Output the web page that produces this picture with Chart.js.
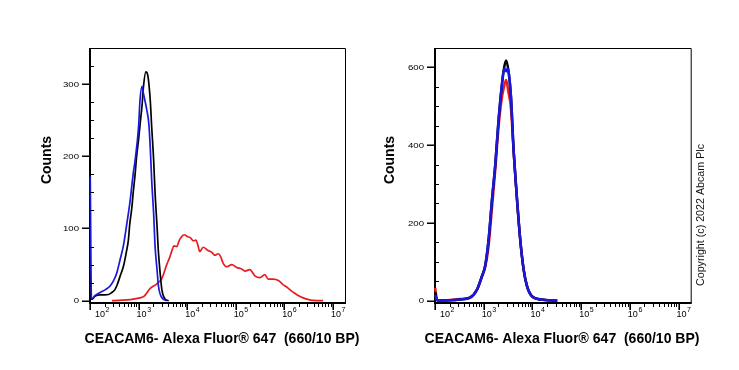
<!DOCTYPE html>
<html>
<head>
<meta charset="utf-8">
<script src="https://cdn.jsdelivr.net/npm/chart.js@4/dist/chart.umd.min.js"></script>
<style>
  html, body { margin: 0; padding: 0; background: #fff; }
  #wrap { position: relative; width: 739px; height: 370px; overflow: hidden; }
  canvas { position: absolute; top: 0; }
  #c1 { left: 0; }
  #c2 { left: 370px; }
</style>
</head>
<body>
<div id="wrap">
  <canvas id="c1" width="370" height="370"></canvas>
  <canvas id="c2" width="369" height="370"></canvas>
</div>
<script>
// ---------- Data (x = log10 of fluorescence intensity, y = counts) ----------
const axisTitleX = 'CEACAM6- Alexa Fluor\u00AE 647  (660/10 BP)';
const axisTitleY = 'Counts';
const copyrightText = 'Copyright (c) 2022 Abcam Plc';

// x tick labels: 10^2 ... 10^7
const xMajorExps = [2, 3, 4, 5, 6, 7];
const xTickBase = '10';
const xTickSup = ['2', '3', '4', '5', '6', '7'];
const xMinorMultipliers = [2, 3, 4, 5, 6, 7, 8, 9];

// y ticks
const leftYMajor = [0, 100, 200, 300];
const leftYMinor = [25, 50, 75, 125, 150, 175, 225, 250, 275, 325];
const rightYMajor = [0, 200, 400, 600];
const rightYMinor = [50, 100, 150, 250, 300, 350, 450, 500, 550];

// Left panel series
const leftRedExp = [2.45, 2.60, 2.83, 3.00, 3.11, 3.24, 3.37, 3.48, 3.58, 3.64, 3.68, 3.73, 3.785, 3.84, 3.88, 3.92, 3.96, 4.00, 4.07, 4.13, 4.18, 4.22, 4.26, 4.33, 4.42, 4.51, 4.57, 4.64, 4.69, 4.74, 4.81, 4.92, 5.02, 5.12, 5.19, 5.29, 5.40, 5.50, 5.60, 5.67, 5.77, 5.88, 5.98, 6.05, 6.12, 6.19, 6.26, 6.35, 6.43, 6.52, 6.60, 6.80];
const leftRedCounts = [0, 0.5, 1.5, 3.5, 6, 17, 23, 31, 50, 60, 68, 76, 75, 84, 88, 91, 91, 89, 87, 83, 84, 77, 68, 74, 70, 67, 63, 65, 61, 52, 47, 50, 46, 44, 41, 43, 34, 32, 36, 30, 30, 28, 22, 19, 15, 11.5, 8.3, 5, 2.8, 1.2, 0.3, 0];

const leftBlackExp = [2.00, 2.04, 2.10, 2.20, 2.30, 2.38, 2.44, 2.51, 2.56, 2.62, 2.69, 2.75, 2.79, 2.82, 2.86, 2.89, 2.93, 2.96, 3.00, 3.04, 3.07, 3.10, 3.15, 3.19, 3.24, 3.27, 3.31, 3.34, 3.38, 3.41, 3.45, 3.48, 3.55, 3.62];
const leftBlackCounts = [3, 2, 6, 8, 8, 8.5, 11, 15, 22, 34, 48, 68, 84, 107, 128, 150, 176, 200, 223, 250, 269, 296, 317, 312, 278, 241, 195, 149, 103, 66, 34, 15, 2, 0];

const leftBlueExp = [2.005, 2.03, 2.05, 2.10, 2.20, 2.31, 2.41, 2.48, 2.55, 2.62, 2.69, 2.75, 2.82, 2.89, 2.93, 3.00, 3.03, 3.07, 3.10, 3.17, 3.21, 3.24, 3.27, 3.31, 3.34, 3.38, 3.41, 3.48, 3.58];
const leftBlueCounts = [172, 4, 3, 7, 11, 15, 20, 27, 38, 57, 77, 103, 135, 176, 195, 241, 278, 297, 287, 264, 246, 213, 167, 121, 75, 43, 20, 4, 0];

// Right panel series
const rightRedExp = [2.005, 2.03, 2.07, 2.31, 2.51, 2.72, 2.86, 2.96, 3.03, 3.10, 3.17, 3.24, 3.30, 3.37, 3.42, 3.46, 3.51, 3.56, 3.61, 3.68, 3.75, 3.82, 3.89, 3.99, 4.16, 4.51];
const rightRedCounts = [33, 8, 0, 2, 4, 8, 27, 60, 86, 140, 238, 340, 440, 520, 552, 568, 535, 495, 392, 265, 157, 80, 38, 12, 4, 0];

const rightBlackExp = [2.005, 2.03, 2.07, 2.31, 2.51, 2.72, 2.86, 2.96, 3.03, 3.10, 3.17, 3.24, 3.30, 3.37, 3.42, 3.46, 3.51, 3.56, 3.61, 3.68, 3.75, 3.82, 3.89, 3.99, 4.16, 4.51];
const rightBlackCounts = [22, 5, 0, 1, 3, 8, 28, 62, 90, 157, 260, 354, 457, 551, 600, 618, 590, 525, 397, 268, 157, 80, 37, 11, 3, 0];

const rightBlueExp = [2.005, 2.03, 2.07, 2.31, 2.51, 2.72, 2.86, 2.96, 3.03, 3.10, 3.17, 3.24, 3.30, 3.37, 3.42, 3.46, 3.49, 3.51, 3.56, 3.61, 3.68, 3.75, 3.82, 3.89, 3.99, 4.16, 4.51];
const rightBlueCounts = [15, 4, 0, 1, 3, 8, 28, 62, 90, 157, 260, 354, 457, 551, 597, 590, 597, 590, 525, 397, 268, 157, 80, 37, 11, 3, 0];

// ---------- Styling ----------
const RED = 'rgb(232,28,30)';
const BLACK = '#000000';
const BLUE = 'rgb(24,24,222)';
const FONT = '"Liberation Sans", Arial, Helvetica, sans-serif';

function pts(xs, ys) { return xs.map((x, i) => ({ x: x, y: ys[i] })); }

// order: higher values are drawn first (underneath)
function ds(xs, ys, color, width, order) {
  return {
    data: pts(xs, ys), borderColor: color, borderWidth: width, order: order,
    pointRadius: 0, fill: false, cubicInterpolationMode: 'monotone', clip: 3
  };
}

function scaledText(ctx, text, x, y, sx, align, baseline) {
  ctx.save();
  ctx.translate(x, y);
  ctx.scale(sx, 1);
  ctx.textAlign = align;
  ctx.textBaseline = baseline;
  ctx.fillText(text, 0, 0);
  ctx.restore();
}

function decorPlugin(cfg) {
  return {
    id: 'decor',
    beforeDatasetsDraw(chart) {
      const ctx = chart.ctx;
      const a = chart.chartArea;
      ctx.save();
      ctx.strokeStyle = '#000';
      // frame (thin top/right)
      ctx.lineWidth = 1;
      ctx.beginPath();
      ctx.moveTo(a.left, a.top + 0.5); ctx.lineTo(a.right + 0.5, a.top + 0.5);
      ctx.lineTo(a.right + 0.5, a.bottom);
      ctx.stroke();
      // thick axes
      ctx.lineWidth = 2;
      ctx.beginPath();
      ctx.moveTo(a.left, a.top); ctx.lineTo(a.left, a.bottom + 1);
      ctx.moveTo(a.left - 1, a.bottom); ctx.lineTo(a.right + 1, a.bottom);
      ctx.stroke();
      ctx.restore();
    },
    afterDatasetsDraw(chart) {
      const ctx = chart.ctx;
      const a = chart.chartArea;
      const xs = chart.scales.x, ys = chart.scales.y;
      ctx.save();
      ctx.strokeStyle = '#000';
      ctx.fillStyle = '#000';
      // y ticks
      ctx.lineWidth = 1.6;
      ctx.beginPath();
      cfg.yMajor.forEach(v => {
        const py = Math.round(ys.getPixelForValue(v)) + 0.2;
        ctx.moveTo(a.left - 8, py); ctx.lineTo(a.left - 1, py);
      });
      ctx.stroke();
      ctx.lineWidth = 1;
      ctx.beginPath();
      cfg.yMinor.forEach(v => {
        const py = Math.round(ys.getPixelForValue(v)) + 0.5;
        ctx.moveTo(a.left, py); ctx.lineTo(a.left + 4, py);
      });
      ctx.stroke();
      // y labels
      ctx.font = '8px ' + FONT;
      cfg.yMajor.forEach(v => {
        scaledText(ctx, String(v), a.left - 11, ys.getPixelForValue(v) + 0.5, 1.2, 'right', 'middle');
      });
      // x ticks
      ctx.lineWidth = 1.6;
      ctx.beginPath();
      xMajorExps.forEach(e => {
        const px = Math.round(xs.getPixelForValue(e)) + 0.2;
        ctx.moveTo(px, a.bottom + 1); ctx.lineTo(px, a.bottom + 7);
      });
      ctx.stroke();
      ctx.lineWidth = 1;
      ctx.beginPath();
      xMajorExps.forEach(e => {
        xMinorMultipliers.forEach(m => {
          const v = e + Math.log10(m);
          if (v <= xs.max) {
            const px = Math.round(xs.getPixelForValue(v)) + 0.5;
            ctx.moveTo(px, a.bottom + 1); ctx.lineTo(px, a.bottom + 4);
          }
        });
      });
      ctx.stroke();
      // x labels 10^n
      xMajorExps.forEach((e, i) => {
        const px = xs.getPixelForValue(e);
        ctx.font = '9px ' + FONT;
        const wb = ctx.measureText(xTickBase).width;
        ctx.font = '7px ' + FONT;
        const ws = ctx.measureText(xTickSup[i]).width;
        let left = px + 5 - (wb + ws) / 2;
        if (left < a.left + 5) left = a.left + 5;
        ctx.font = '9px ' + FONT;
        ctx.textAlign = 'left';
        ctx.textBaseline = 'alphabetic';
        ctx.fillText(xTickBase, left, a.bottom + 13.5);
        ctx.font = '7px ' + FONT;
        ctx.fillText(xTickSup[i], left + wb + 0.5, a.bottom + 9);
      });
      // axis titles
      ctx.font = 'bold 14px ' + FONT;
      ctx.textAlign = 'center';
      ctx.textBaseline = 'middle';
      ctx.fillText(axisTitleX, cfg.xTitleX, 339.5);
      ctx.save();
      ctx.translate(cfg.yTitleX, 160);
      ctx.rotate(-Math.PI / 2);
      ctx.fillText(axisTitleY, 0, 0);
      ctx.restore();
      if (cfg.copyright) {
        ctx.save();
        ctx.font = '10.7px ' + FONT;
        ctx.fillStyle = '#111';
        ctx.translate(cfg.copyrightX, 215);
        ctx.rotate(-Math.PI / 2);
        ctx.textAlign = 'center';
        ctx.textBaseline = 'middle';
        ctx.fillText(copyrightText, 0, 0);
        ctx.restore();
      }
      ctx.restore();
    }
  };
}

function makeChart(id, datasets, yMin, yMax, yAxisWidth, padRight, cfg) {
  return new Chart(document.getElementById(id), {
    type: 'line',
    data: { datasets: datasets },
    options: {
      responsive: false,
      animation: false,
      devicePixelRatio: 1,
      layout: { padding: { left: 0, top: 48, right: padRight, bottom: 0 } },
      plugins: { legend: { display: false }, tooltip: { enabled: false } },
      scales: {
        x: {
          type: 'linear', min: 2, max: 7.25,
          grid: { display: false }, border: { display: false },
          ticks: { display: false },
          afterFit: s => { s.height = 67; }
        },
        y: {
          type: 'linear', min: yMin, max: yMax,
          grid: { display: false }, border: { display: false },
          ticks: { display: false },
          afterFit: s => { s.width = yAxisWidth; }
        }
      }
    },
    plugins: [decorPlugin(cfg)]
  });
}

makeChart('c1', [
  ds(leftRedExp, leftRedCounts, RED, 1.7, 3),
  ds(leftBlackExp, leftBlackCounts, BLACK, 1.7, 2),
  ds(leftBlueExp, leftBlueCounts, BLUE, 1.7, 1)
], -3.2, 350, 90, 25, {
  yMajor: leftYMajor, yMinor: leftYMinor, xTitleX: 222, yTitleX: 47.5, copyright: false
});

makeChart('c2', [
  ds(rightRedExp, rightRedCounts, RED, 2.5, 3),
  ds(rightBlackExp, rightBlackCounts, BLACK, 2.5, 2),
  ds(rightBlueExp, rightBlueCounts, BLUE, 2.5, 1)
], -6, 650, 65, 48.3, {
  yMajor: rightYMajor, yMinor: rightYMinor, xTitleX: 192, yTitleX: 20, copyright: true, copyrightX: 331
});
</script>
</body>
</html>
